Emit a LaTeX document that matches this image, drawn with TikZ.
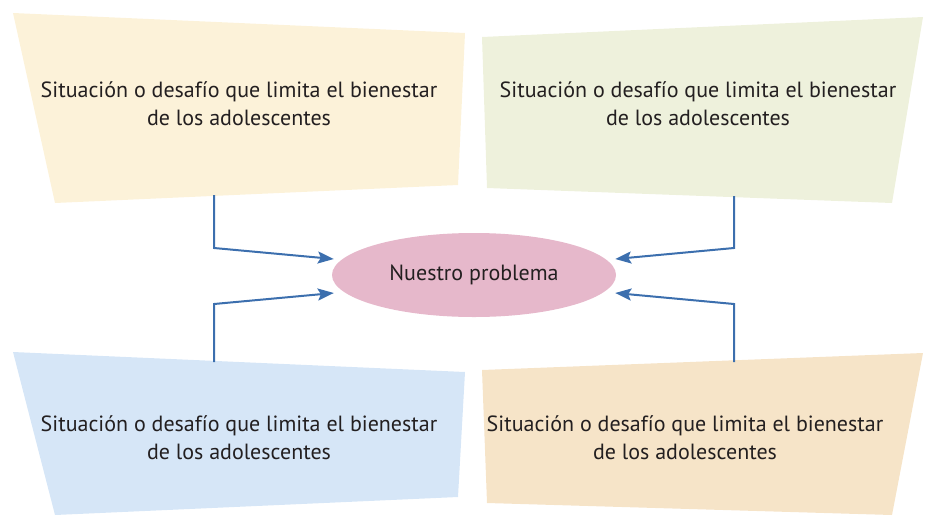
\documentclass[tikz,border=0pt]{standalone}
\usepackage{fontspec}
\setmainfont{PT Sans}
\usepackage{xcolor}
\usepackage{tikz}
\usetikzlibrary{shapes.geometric, arrows.meta, positioning, calc}
\definecolor{boxYellow}{HTML}{FCF2D9}
\definecolor{boxGreen}{HTML}{EEF1DC}
\definecolor{boxBlue}{HTML}{D6E6F7}
\definecolor{boxTan}{HTML}{F6E4C8}
\definecolor{probPink}{HTML}{E6B8CB}
\definecolor{feedBlue}{HTML}{3C6FAE}
\definecolor{inkDark}{HTML}{231F20}

\tikzset{
  boxtext/.style={align=center, text=inkDark, font=\fontsize{22}{28}\selectfont, inner sep=0pt},
  feed/.style={draw=feedBlue, line width=2pt, -{Stealth[length=16pt, width=12pt, inset=3pt]}}
}

\begin{document}
\begin{tikzpicture}[x=1pt, y=-1pt]

\useasboundingbox (0,0) rectangle (925,517);

% --- BOX 1: TOP LEFT (yellow) ---
\fill[boxYellow] (13,13) -- (465,33) -- (458,185) -- (55,203) -- cycle;
\node[boxtext] (sitA) at (239,104) {Situación o desafío que limita el bienestar\\de los adolescentes};

% --- BOX 2: TOP RIGHT (green) ---
\fill[boxGreen] (482,37) -- (923,17) -- (892,203) -- (487,188) -- cycle;
\node[boxtext] (sitB) at (698,104) {Situación o desafío que limita el bienestar\\de los adolescentes};

% --- BOX 3: BOTTOM LEFT (blue) ---
\fill[boxBlue] (13,352) -- (465,372) -- (458,497) -- (55,515) -- cycle;
\node[boxtext] (sitC) at (239,438) {Situación o desafío que limita el bienestar\\de los adolescentes};

% --- BOX 4: BOTTOM RIGHT (tan) ---
\fill[boxTan] (482,370) -- (923,353) -- (892,515) -- (487,503) -- cycle;
\node[boxtext] (sitD) at (685,438) {Situación o desafío que limita el bienestar\\de los adolescentes};

% --- CENTER: PROBLEM ---
\node[ellipse, fill=probPink, minimum width=284, minimum height=84, inner sep=0pt,
      text=inkDark, font=\fontsize{22}{24}\selectfont] (prob) at (474,275) {Nuestro problema};

% --- CONNECTORS ---
\coordinate (footA) at (214,195);
\coordinate (kneeA) at (214,248);
\coordinate (footB) at (734,196);
\coordinate (kneeB) at (734,248);
\coordinate (footC) at (214,362);
\coordinate (kneeC) at (214,304);
\coordinate (footD) at (734,362);
\coordinate (kneeD) at (734,304);

\draw[feed] (footA) -- (kneeA) -- ($(prob.west)+(2,-16)$);
\draw[feed] (footB) -- (kneeB) -- ($(prob.east)+(-1,-16)$);
\draw[feed] (footC) -- (kneeC) -- ($(prob.west)+(2,18)$);
\draw[feed] (footD) -- (kneeD) -- ($(prob.east)+(-1,18)$);

\end{tikzpicture}
\end{document}
